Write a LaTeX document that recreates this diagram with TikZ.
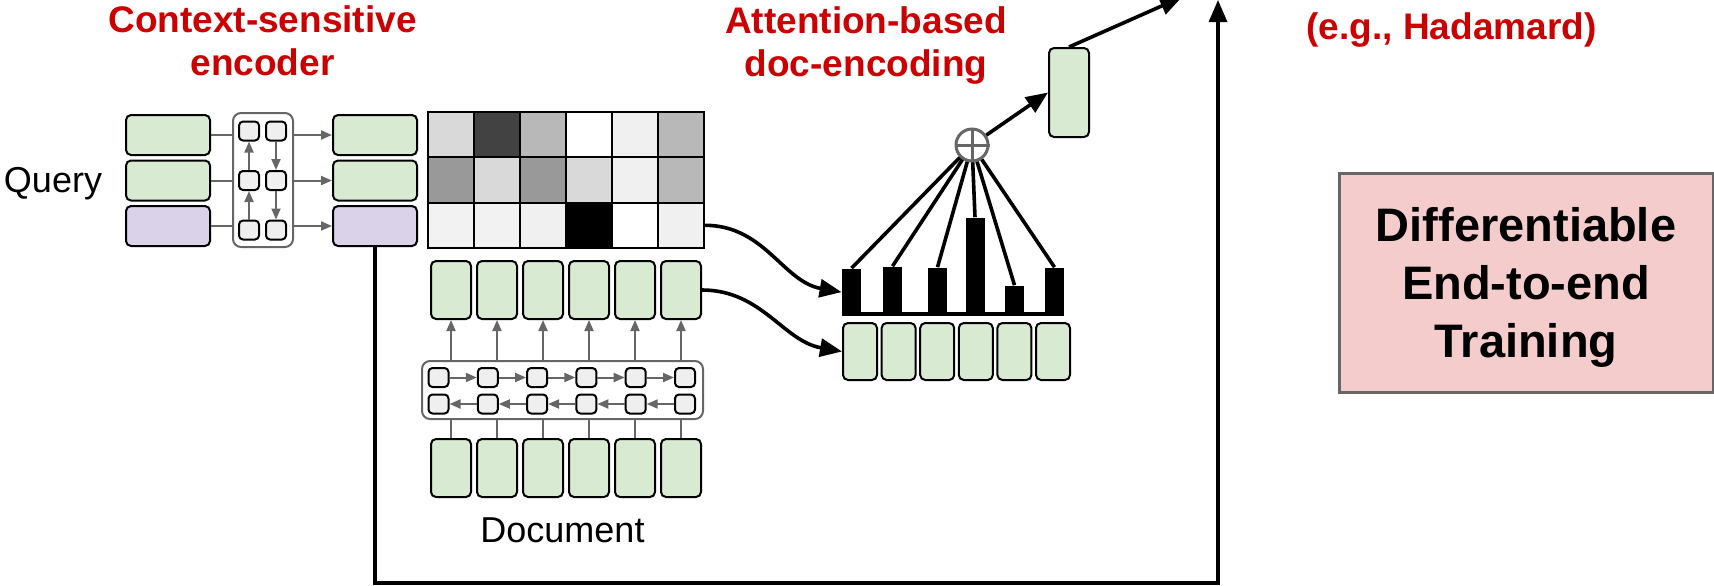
\documentclass[tikz,border=0pt]{standalone}
\usepackage{fontspec}
\setmainfont{Liberation Sans}
\usepackage{xcolor}
\usetikzlibrary{arrows.meta, positioning}

\definecolor{vecgreen}{HTML}{D9EAD3}
\definecolor{veclilac}{HTML}{D9D2E9}
\definecolor{titlered}{HTML}{CC0000}
\definecolor{linegray}{HTML}{666666}
\definecolor{unitgray}{HTML}{EFEFEF}
\definecolor{boxpink}{HTML}{F4CCCC}

\tikzstyle{vec} = [rectangle, rounded corners=2.5pt, draw=black, line width=1pt, fill=vecgreen, inner sep=0pt]
\tikzstyle{qvec} = [vec, minimum width=42pt, minimum height=20pt]
\tikzstyle{dvec} = [vec, minimum width=20pt, minimum height=29pt]
\tikzstyle{avec} = [vec, minimum width=17pt, minimum height=28.5pt]
\tikzstyle{cellbox} = [rectangle, draw=black, line width=1pt, minimum width=23pt, minimum height=22.65pt, inner sep=0pt]
\tikzstyle{rnnbox} = [rectangle, rounded corners=4pt, draw=linegray, line width=1pt, inner sep=0pt]
\tikzstyle{unit} = [rectangle, rounded corners=2pt, draw=black, line width=1pt, fill=unitgray, minimum width=10pt, minimum height=9.5pt, inner sep=0pt]
\tikzstyle{bar} = [rectangle, fill=black, minimum width=9.5pt, inner sep=0pt, anchor=south]
\tikzstyle{redtitle} = [text=titlered, font=\fontsize{18.5}{21.5}\selectfont\bfseries, align=center]
\tikzstyle{plaintext} = [font=\fontsize{18}{21}\selectfont]
\tikzstyle{wire} = [draw=linegray, line width=1pt]
\tikzstyle{wirearrow} = [wire, -{Triangle[length=5.5pt,width=4.5pt]}]
\tikzstyle{arrow} = [line width=1.8pt, -{Triangle[length=11pt,width=9pt]}]
\tikzstyle{spoke} = [line width=1.8pt]

\begin{document}
\begin{tikzpicture}[x=0.5pt, y=-0.5pt]

        \useasboundingbox (0,0) rectangle (1714,585);

        % Titles
        \node (enctitle) [redtitle] at (262.5,41) {Context-sensitive\\encoder};
        \node (atttitle) [redtitle] at (866,45.5) {Attention-based\\doc-encoding};
        \node (optitle) [redtitle, anchor=base] at (1451.5,39) {(e.g., Hadamard)};
        \node (query) [plaintext, anchor=base] at (53,192) {Query};
        \node (doc) [plaintext, anchor=base] at (562.5,542) {Document};

        % Query encoder
        \node (qrnn) [rnnbox, minimum width=30pt, minimum height=67pt] at (263,180) {};
        \foreach \y/\c [count=\i] in {135/vecgreen, 180.5/vecgreen, 226/veclilac} {
            \node (ql\i) [qvec, fill=\c] at (168,\y) {};
            \node (qr\i) [qvec, fill=\c] at (375,\y) {};
        }
        \foreach \y [count=\i] in {131, 180.5, 230} {
            \node (qa\i) [unit] at (249,\y) {};
            \node (qb\i) [unit] at (276,\y) {};
        }
        \foreach \i in {1,2,3} {
            \draw [wire] (ql\i.east) -- (ql\i.east -| qrnn.west);
            \draw [wirearrow] (qr\i.west -| qrnn.east) -- (qr\i.west);
        }
        \draw [wirearrow] (qa3) -- (qa2);
        \draw [wirearrow] (qa2) -- (qa1);
        \draw [wirearrow] (qb1) -- (qb2);
        \draw [wirearrow] (qb2) -- (qb3);

        % Attention matrix
        \foreach \c [count=\i from 0] in {black!15, black!74, black!28, white, black!6, black!28}
            \node (m1\i) [cellbox, fill=\c] at (451+46*\i, 134.7) {};
        \foreach \c [count=\i from 0] in {black!40, black!15, black!40, black!15, black!6, black!28}
            \node (m2\i) [cellbox, fill=\c] at (451+46*\i, 180) {};
        \foreach \c [count=\i from 0] in {black!5, black!5, black!6, black, white, black!6}
            \node (m3\i) [cellbox, fill=\c] at (451+46*\i, 225.3) {};

        % Document encoder
        \node (drnn) [rnnbox, minimum width=140.5pt, minimum height=29pt] at (562.5,390) {};
        \foreach \i in {1,...,6} {
            \node (dt\i) [dvec] at (405+46*\i, 290) {};
            \node (db\i) [dvec] at (405+46*\i, 468) {};
            \node (df\i) [unit] at (389.2+49.3*\i, 377.5) {};
            \node (dg\i) [unit] at (389.2+49.3*\i, 404) {};
            \draw [wirearrow] (dt\i.south |- drnn.north) -- (dt\i.south);
            \draw [wire] (db\i.north |- drnn.south) -- (db\i.north);
        }
        \foreach \i [count=\j from 2] in {1,...,5} {
            \draw [wirearrow] (df\i) -- (df\j);
            \draw [wirearrow] (dg\j) -- (dg\i);
        }

        % Attention weights
        \foreach \x/\h [count=\i] in {851.5/23.5, 892.5/24.5, 937.5/24, 975/49, 1014.5/15, 1054.5/24}
            \node (bar\i) [bar, minimum height=\h pt] at (\x,316) {};
        \fill (842,312) rectangle (1064,316);
        \foreach \i in {1,...,6}
            \node (av\i) [avec] at (821.4+38.6*\i, 351.5) {};
        \node (plus) [circle, draw=linegray, line width=1.5pt, minimum size=16pt, inner sep=0pt] at (972,145) {};
        \draw [linegray, line width=1.5pt] (plus.north) -- (plus.south) (plus.west) -- (plus.east);
        \node (outvec) [vec, minimum width=20pt, minimum height=44.5pt] at (1069,92.5) {};

        % Training box
        \node (train) [rectangle, draw=linegray, line width=1.5pt, fill=boxpink, minimum width=187pt, minimum height=109.5pt, align=center, font=\fontsize{23.5}{29}\selectfont\bfseries] at (1526,282.5) {\rule{0pt}{22pt}Differentiable\\End-to-end\\Training};

        % Arrows
        \foreach \i in {1,...,6}
            \draw [spoke] (bar\i.north) -- (plus);
        \draw [arrow] (m35.east) to[out=0, in=170] (bar1.west);
        \draw [arrow] (dt6.east) to[out=0, in=170] (av1.west);
        \draw [arrow] (plus) -- (outvec.west);
        \coordinate (outtip) at (1182,-3);
        \draw [arrow] (outvec.north) -- (outtip);
        \coordinate (looptip) at (1218,0);
        \draw [arrow, line width=1.6pt] (qr3.south) -- ++(0,336) -| (looptip);

\end{tikzpicture}
\end{document}
